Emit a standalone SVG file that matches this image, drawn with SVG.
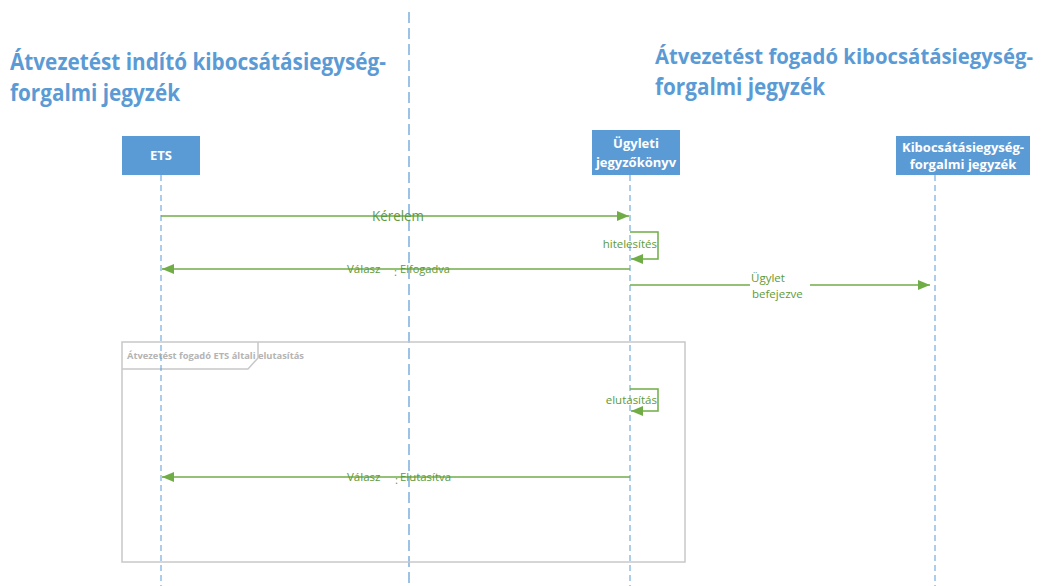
<svg xmlns="http://www.w3.org/2000/svg" width="1044" height="586" viewBox="0 0 1044 586">
<style>
.title{font-family:"Open Sans","Liberation Sans",sans-serif;font-weight:bold;font-size:23px;fill:#5B9BD5}
.box{fill:#5B9BD5}
.btxt{font-family:"Open Sans","Liberation Sans",sans-serif;font-weight:bold;font-size:13px;fill:#fff;text-anchor:middle}
.life{stroke:#5B9BD5;stroke-width:1;stroke-dasharray:6 4;fill:none}
.msg{stroke:#70AD47;stroke-width:1.5;fill:none}
.mtxt{font-family:"Open Sans","Liberation Sans",sans-serif;font-size:11.5px;fill:#5E9A3A}
.frame{stroke:#C8C8C8;stroke-width:1.5;fill:none}
.ftxt{font-family:"Open Sans","Liberation Sans",sans-serif;font-weight:bold;font-size:9px;fill:#B4B4B4}
</style>
<defs>
<marker id="ah" viewBox="0 0 12 10" refX="12" refY="5" markerWidth="12" markerHeight="10" markerUnits="userSpaceOnUse" orient="auto">
<path d="M0,0 L12,5 L0,10 Z" fill="#70AD47"/>
</marker>
</defs>
<rect width="1044" height="586" fill="#fff"/>
<g id="divider">
<line x1="409" y1="12" x2="409" y2="586" stroke="#5B9BD5" stroke-width="1.2" stroke-dasharray="11 5"/>
</g>
<g id="title-left">
<text class="title" x="10" y="70" textLength="376" lengthAdjust="spacingAndGlyphs">Átvezetést indító kibocsátásiegység-</text>
<text class="title" x="10" y="101" textLength="170" lengthAdjust="spacingAndGlyphs">forgalmi jegyzék</text>
</g>
<g id="title-right">
<text class="title" x="655" y="64" style="font-size:21px" textLength="378" lengthAdjust="spacingAndGlyphs">Átvezetést fogadó kibocsátásiegység-</text>
<text class="title" x="655" y="95" textLength="170" lengthAdjust="spacingAndGlyphs">forgalmi jegyzék</text>
</g>
<g id="frame">
<rect class="frame" x="122" y="342" width="563" height="220"/>
<path class="frame" d="M122,369 L248,369 L258,358 L258,342"/>
<text class="ftxt" x="127" y="359" textLength="177" lengthAdjust="spacingAndGlyphs">Átvezetést fogadó ETS általi elutasítás</text>
</g>
<g id="ets">
<rect class="box" x="122" y="136" width="78" height="39"/>
<text class="btxt" x="161" y="160">ETS</text>
<line class="life" x1="161" y1="175" x2="161" y2="586"/>
</g>
<g id="ugyleti">
<rect class="box" x="592" y="130" width="88" height="45"/>
<text class="btxt" x="636" y="148">Ügyleti</text>
<text class="btxt" x="636" y="167">jegyzőkönyv</text>
<line class="life" x1="630" y1="175" x2="630" y2="586"/>
</g>
<g id="kibocs">
<rect class="box" x="896" y="136" width="134" height="39"/>
<text class="btxt" x="963" y="152" textLength="122" lengthAdjust="spacingAndGlyphs">Kibocsátásiegység-</text>
<text class="btxt" x="963" y="169">forgalmi jegyzék</text>
<line class="life" x1="935" y1="175" x2="935" y2="586"/>
</g>
<g id="connectors">
<line class="msg" x1="161" y1="216" x2="629" y2="216" marker-end="url(#ah)"/>
<text class="mtxt" x="372" y="221" style="font-size:14px" textLength="52" lengthAdjust="spacingAndGlyphs">Kérelem</text>
<path class="msg" d="M630,232 L658,232 L658,259 L631,259" marker-end="url(#ah)"/>
<text class="mtxt" x="657" y="248" text-anchor="end">hitelesítés</text>
<line class="msg" x1="630" y1="269" x2="162" y2="269" marker-end="url(#ah)"/>
<text class="mtxt" x="347" y="273">Válasz</text>
<text class="mtxt" x="394" y="276">:</text>
<text class="mtxt" x="400" y="273" textLength="50" lengthAdjust="spacingAndGlyphs">Elfogadva</text>
<line class="msg" x1="630" y1="285" x2="750" y2="285"/>
<line class="msg" x1="810" y1="285" x2="930" y2="285" marker-end="url(#ah)"/>
<text class="mtxt" x="751" y="282">Ügylet</text>
<text class="mtxt" x="752" y="298">befejezve</text>
<path class="msg" d="M630,389 L658,389 L658,411 L631,411" marker-end="url(#ah)"/>
<text class="mtxt" x="657" y="404" text-anchor="end">elutasítás</text>
<line class="msg" x1="630" y1="477" x2="162" y2="477" marker-end="url(#ah)"/>
<text class="mtxt" x="347" y="481">Válasz</text>
<text class="mtxt" x="395" y="484">:</text>
<text class="mtxt" x="400" y="481" textLength="51" lengthAdjust="spacingAndGlyphs">Elutasítva</text>
</g>
</svg>
